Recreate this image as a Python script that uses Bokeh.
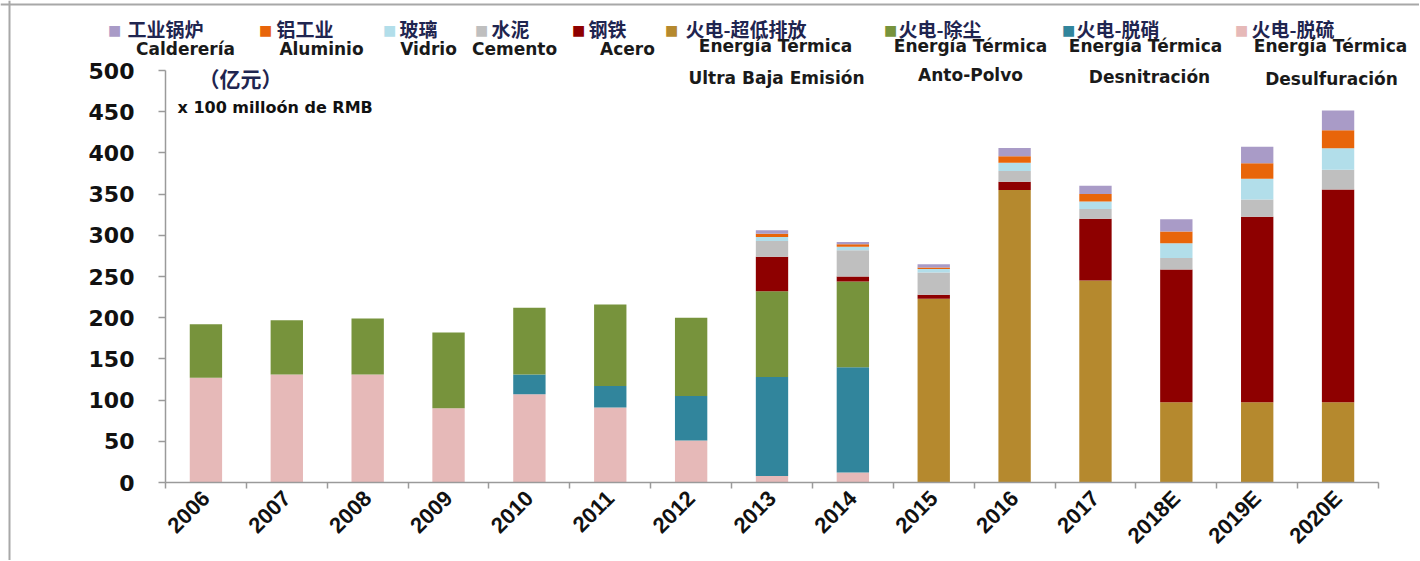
import math
from bokeh.plotting import figure
from bokeh.models import ColumnDataSource, Range1d, FixedTicker, Label, Span
from bokeh.embed import file_html
from bokeh.resources import INLINE

years = ["2006", "2007", "2008", "2009", "2010", "2011", "2012", "2013", "2014",
         "2015", "2016", "2017", "2018E", "2019E", "2020E"]

# stacked series, bottom to top (unit: 亿元)
desulf = [127, 131, 131, 90, 107, 91, 51, 8, 12, 0, 0, 0, 0, 0, 0]          # 火电-脱硫
denitr = [0, 0, 0, 0, 24, 26, 54, 120, 128, 0, 0, 0, 0, 0, 0]               # 火电-脱硝
dust = [65, 66, 68, 92, 81, 99, 95, 104, 104, 0, 0, 0, 0, 0, 0]             # 火电-除尘
ultra = [0, 0, 0, 0, 0, 0, 0, 0, 0, 223, 355, 245, 97.5, 97.5, 97.5]        # 火电-超低排放
steel = [0, 0, 0, 0, 0, 0, 0, 42, 6, 5, 10, 75, 161, 225, 258]              # 钢铁
cement = [0, 0, 0, 0, 0, 0, 0, 19, 32, 27, 13, 12, 14, 21, 24]              # 水泥
glass = [0, 0, 0, 0, 0, 0, 0, 5, 4, 4, 10, 9, 18, 25, 26]                   # 玻璃
alum = [0, 0, 0, 0, 0, 0, 0, 4, 3, 2, 8, 9, 14, 19, 22]                     # 铝工业
boiler = [0, 0, 0, 0, 0, 0, 0, 4, 3, 4, 10, 10, 15, 20, 24]                 # 工业锅炉

series_keys = ["desulf", "denitr", "dust", "ultra", "steel", "cement", "glass", "alum", "boiler"]
series_vals = [desulf, denitr, dust, ultra, steel, cement, glass, alum, boiler]
colors = ["#E6B9B8", "#31859C", "#77933C", "#B5892E", "#8E0000",
          "#BFBFBF", "#B2DEEA", "#E8650A", "#A99BC7"]

y_ticks = [0, 50, 100, 150, 200, 250, 300, 350, 400, 450, 500]

# legend (left to right)
leg_cn = ["工业锅炉", "铝工业", "玻璃", "水泥", "钢铁",
          "火电-超低排放", "火电-除尘", "火电-脱硝", "火电-脱硫"]
leg_es1 = ["Calderería", "Aluminio", "Vidrio", "Cemento", "Acero",
           "Energía Térmica", "Energía Térmica", "Energía Térmica", "Energía Térmica"]
leg_es2 = ["", "", "", "", "", "Ultra Baja Emisión", "Anto-Polvo", "Desnitración", "Desulfuración"]
leg_colors = ["#A99BC7", "#E8650A", "#B2DEEA", "#BFBFBF", "#8E0000",
              "#B5892E", "#77933C", "#31859C", "#E6B9B8"]
unit_cn = "（亿元）"
unit_es = "x 100 milloón de RMB"

xs = [i + 0.5 for i in range(len(years))]
data = {"x": xs}
for k, v in zip(series_keys, series_vals):
    data[k] = v
src = ColumnDataSource(data)

# layout: canvas = frame; axes drawn at fixed locations
W, H = 1419, 560
AX_L, AX_R, AX_B, AX_T = 165, 1378, 482, 70       # page px of the axes box
CW = (AX_R - AX_L) / len(years)
PY = (AX_B - AX_T) / 500.0

def dx(px):
    return (px - AX_L) / CW

def dy(py):
    return (AX_B - py) / PY

p = figure(width=W, height=H, output_backend="svg", toolbar_location=None,
           x_range=Range1d(dx(0), dx(W)), y_range=Range1d(dy(H), dy(0)),
           min_border=0, min_border_left=0, min_border_right=0,
           min_border_top=0, min_border_bottom=0)
p.outline_line_color = None
p.xgrid.visible = False
p.ygrid.visible = False

p.vbar_stack(series_keys, x="x", width=0.4, source=src, color=colors, line_color=None)

# axes
p.xaxis.fixed_location = 0
p.xaxis.bounds = (0, len(years))
p.xaxis.ticker = FixedTicker(ticks=xs, minor_ticks=list(range(len(years) + 1)))
p.xaxis.major_label_overrides = {x: y for x, y in zip(xs, years)}
p.xaxis.major_label_orientation = math.pi / 4
p.xaxis.major_tick_line_color = None
p.xaxis.minor_tick_line_color = "#9a9a9a"
p.xaxis.minor_tick_line_width = 1.5
p.xaxis.minor_tick_out = 6
p.xaxis.minor_tick_in = 0
p.xaxis.axis_line_color = "#9a9a9a"
p.xaxis.axis_line_width = 1.5
p.xaxis.major_label_text_font = "Liberation Sans"
p.xaxis.major_label_text_font_style = "bold"
p.xaxis.major_label_text_font_size = "22px"
p.xaxis.major_label_text_color = "#111111"
p.xaxis.major_label_standoff = 6

p.yaxis.fixed_location = 0
p.yaxis.bounds = (0, 500)
p.yaxis.ticker = FixedTicker(ticks=y_ticks)
p.yaxis.minor_tick_line_color = None
p.yaxis.major_tick_line_color = "#9a9a9a"
p.yaxis.major_tick_line_width = 1.5
p.yaxis.major_tick_out = 7
p.yaxis.major_tick_in = 0
p.yaxis.axis_line_color = "#9a9a9a"
p.yaxis.axis_line_width = 1.5
p.yaxis.major_label_text_font = "DejaVu Sans"
p.yaxis.major_label_text_font_style = "bold"
p.yaxis.major_label_text_font_size = "22px"
p.yaxis.major_label_text_color = "#111111"
p.yaxis.major_label_standoff = 24

# outer frame lines (top and left only)
p.add_layout(Span(location=dy(4), dimension="width", line_color="#a8a8a8", line_width=2))
p.add_layout(Span(location=dx(9), dimension="height", line_color="#a8a8a8", line_width=2))

sq_x = [114, 265, 389, 481, 578, 671, 890, 1068, 1241]
cn_x = [127, 276, 399, 491, 588, 685, 898, 1076, 1251]
es1_x = [185, 321, 428, 514, 627, 775, 970, 1145, 1330]
es2_x = [0, 0, 0, 0, 0, 776, 970, 1149, 1331]
es1_y = [48, 48, 48, 48, 48, 45, 45, 45, 45]
es2_y = [0, 0, 0, 0, 0, 77, 74, 76, 78]

for i in range(len(leg_cn)):
    p.add_layout(Label(x=dx(sq_x[i]), y=dy(29), text="■", text_color=leg_colors[i],
                       text_font="DejaVu Sans", text_font_size="14px",
                       text_align="center", text_baseline="middle"))
    p.add_layout(Label(x=dx(cn_x[i]), y=dy(28), text=leg_cn[i], text_color="#1f2550",
                       text_font="Noto Sans CJK SC", text_font_style="bold", text_font_size="19px",
                       text_align="left", text_baseline="middle"))
    p.add_layout(Label(x=dx(es1_x[i]), y=dy(es1_y[i]), text=leg_es1[i], text_color="#1a1a1a",
                       text_font="DejaVu Sans", text_font_style="bold", text_font_size="17px",
                       text_align="center", text_baseline="middle"))
    if leg_es2[i]:
        p.add_layout(Label(x=dx(es2_x[i]), y=dy(es2_y[i]), text=leg_es2[i], text_color="#1a1a1a",
                           text_font="DejaVu Sans", text_font_style="bold", text_font_size="17px",
                           text_align="center", text_baseline="middle"))

p.add_layout(Label(x=dx(198), y=dy(77), text=unit_cn, text_color="#1f2550",
                   text_font="Noto Sans CJK SC", text_font_style="bold", text_font_size="21px",
                   text_align="left", text_baseline="middle"))
p.add_layout(Label(x=dx(177), y=dy(107), text=unit_es, text_color="#111111",
                   text_font="DejaVu Sans", text_font_style="bold", text_font_size="16px",
                   text_align="left", text_baseline="middle"))

open("out.html", "w").write(file_html(p, INLINE))
